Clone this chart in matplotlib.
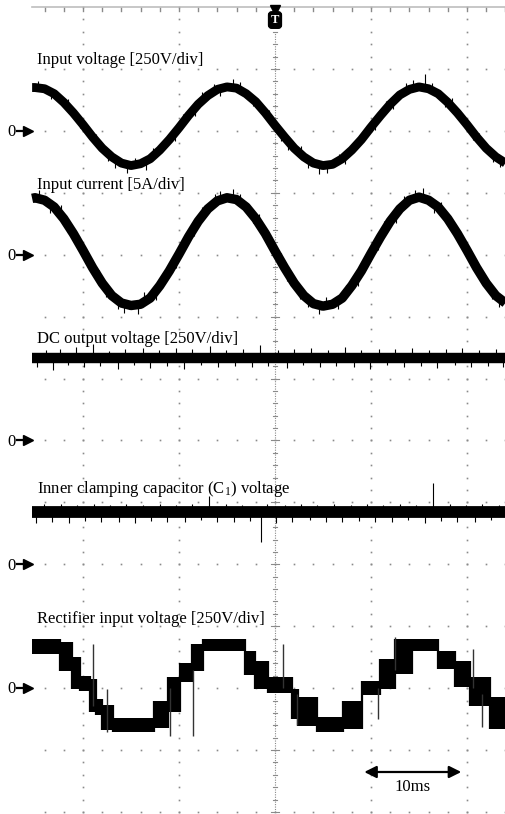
import numpy as np
import matplotlib
matplotlib.use("Agg")
import matplotlib.pyplot as plt

plt.rcParams['font.family'] = ['Liberation Serif', 'DejaVu Serif']
plt.rcParams['mathtext.fontset'] = 'custom'
plt.rcParams['mathtext.rm'] = 'Liberation Serif'
plt.rcParams['mathtext.it'] = 'Liberation Serif:italic'

# ---------------- data (time in ms, trigger at 0; amplitudes in divisions) ----------------
time_ms = [-25.3] + list(range(-25, 25))

input_voltage = [0.70,
                 0.70, 0.68, 0.60, 0.46, 0.29, 0.10, -0.10, -0.28, -0.42, -0.52,
                 -0.56, -0.53, -0.45, -0.31, -0.14, 0.05, 0.25, 0.43, 0.57, 0.67,
                 0.71, 0.69, 0.60, 0.47, 0.29, 0.09, -0.10, -0.28, -0.42, -0.52,
                 -0.56, -0.54, -0.45, -0.31, -0.14, 0.06, 0.25, 0.43, 0.58, 0.67,
                 0.71, 0.68, 0.60, 0.46, 0.29, 0.10, -0.10, -0.28, -0.42, -0.52]

input_current = [0.91,
                 0.92, 0.88, 0.77, 0.58, 0.34, 0.07, -0.21, -0.46, -0.66, -0.78,
                 -0.82, -0.80, -0.70, -0.50, -0.26, 0.01, 0.29, 0.54, 0.74, 0.87,
                 0.92, 0.89, 0.77, 0.58, 0.34, 0.06, -0.21, -0.46, -0.66, -0.79,
                 -0.83, -0.80, -0.70, -0.50, -0.26, 0.02, 0.29, 0.54, 0.74, 0.88,
                 0.93, 0.88, 0.77, 0.58, 0.34, 0.07, -0.21, -0.46, -0.66, -0.78]

dc_output_level = 1.34
clamp_level = 0.84

# rectifier input voltage: stair segments (start time, band top, band bottom)
rect_t = [-25.31, -22.40, -21.15, -20.31, -19.27, -18.65, -18.02, -16.88, -12.60,
          -11.15, -9.90, -8.65, -7.50, -3.13, -2.08, -0.73, 1.77, 2.40, 4.38, 7.08,
          9.06, 10.94, 12.50, 14.27, 16.98, 18.75, 20.31, 22.40, 24.06]
rect_hi = [0.79, 0.74, 0.50, 0.19, 0.15, -0.18, -0.27, -0.48, -0.21, 0.18, 0.40,
           0.71, 0.79, 0.60, 0.44, 0.18, -0.02, -0.15, -0.47, -0.21, 0.11, 0.47,
           0.79, 0.79, 0.60, 0.44, 0.18, -0.15]
rect_lo = [0.55, 0.27, -0.02, -0.05, -0.39, -0.44, -0.68, -0.71, -0.65, -0.39, 0.10,
           0.27, 0.60, 0.21, -0.02, -0.08, -0.50, -0.61, -0.71, -0.66, -0.11, -0.02,
           0.23, 0.60, 0.31, 0.02, -0.29, -0.66]

# noise spikes: time, start level, end level
volt_spk_t = [-24.7, -23.3, -21.6, -20.3, -18.6, -17.4, -16.7, -15.4, -14.6, -13.4,
              -12.7, -10.4, -9.6, -8.3, -7.6, -6.4, -5.7, -4.4, -3.6, -2.3, -0.6,
              0.6, 1.4, 2.7, 3.4, 4.6, 5.4, 6.7, 7.3, 9.6, 10.4, 11.6, 12.3, 13.6,
              14.4, 15.6, 16.4, 17.7, 18.4, 20.6, 21.3, 22.7, 23.4]
volt_spk_a = [0.69, 0.63, 0.38, 0.18, -0.18, -0.36, -0.46, -0.54, -0.55, -0.49,
              -0.40, -0.04, 0.14, 0.36, 0.49, 0.63, 0.68, 0.70, 0.66, 0.52, 0.21,
              -0.03, -0.18, -0.37, -0.46, -0.54, -0.55, -0.49, -0.40, -0.02, 0.14,
              0.36, 0.47, 0.64, 0.69, 0.70, 0.65, 0.50, 0.40, -0.02, -0.16, -0.38,
              -0.46]
volt_spk_b = [0.80, 0.51, 0.52, 0.05, -0.05, -0.49, -0.60, -0.68, -0.43, -0.63,
              -0.28, -0.17, 0.27, 0.24, 0.62, 0.76, 0.56, 0.84, 0.79, 0.40, 0.34,
              -0.16, -0.31, -0.25, -0.60, -0.69, -0.68, -0.37, -0.53, 0.10, 0.02,
              0.49, 0.35, 0.77, 0.82, 0.92, 0.78, 0.38, 0.53, -0.15, -0.04, -0.51,
              -0.59]

cur_spk_t = [-24.6, -23.4, -22.3, -21.6, -20.4, -19.7, -18.3, -17.6, -16.4, -15.7,
             -14.3, -13.6, -12.4, -11.7, -10.3, -9.6, -8.4, -7.6, -6.3, -5.7, -4.4,
             -3.6, -2.3, -1.7, -0.4, 0.6, 1.3, 2.6, 3.4, 4.6, 5.3, 6.6, 7.4, 8.6,
             9.4, 10.7, 11.4, 12.6, 13.4, 14.6, 15.4, 16.6, 17.3, 18.6, 19.3, 20.6,
             21.4, 22.6, 23.3]
cur_spk_a = [0.90, 0.82, 0.66, 0.48, 0.18, -0.01, -0.38, -0.54, -0.73, -0.80,
             -0.81, -0.74, -0.59, -0.42, -0.08, 0.13, 0.44, 0.62, 0.83, 0.88, 0.90,
             0.84, 0.65, 0.51, 0.22, -0.10, -0.29, -0.58, -0.70, -0.80, -0.82,
             -0.74, -0.62, -0.36, -0.15, 0.21, 0.40, 0.66, 0.80, 0.90, 0.91, 0.82,
             0.71, 0.44, 0.25, -0.10, -0.32, -0.58, -0.70]
cur_spk_b = [1.04, 0.68, 0.80, 0.35, 0.31, -0.15, -0.25, -0.68, -0.87, -0.94,
             -0.95, -0.61, -0.73, -0.29, -0.21, 0.27, 0.31, 0.77, 0.98, 1.03, 1.06,
             0.98, 0.52, 0.65, 0.09, 0.03, -0.43, -0.72, -0.85, -0.95, -0.69,
             -0.88, -0.49, -0.50, -0.02, 0.08, 0.54, 0.52, 0.95, 1.05, 1.08, 0.68,
             0.85, 0.31, 0.38, -0.23, -0.19, -0.72, -0.84]

dc_spk_t = [-24.8, -23.9, -23.1, -22.4, -21.6, -20.7, -19.9, -19.0, -18.2, -17.3,
            -16.4, -15.6, -14.7, -13.8, -13.0, -12.1, -11.2, -10.3, -9.5, -8.6,
            -7.7, -6.8, -5.9, -5.1, -4.2, -3.3, -2.4, -1.6, -0.7, 0.3, 1.2, 2.0,
            2.9, 3.8, 4.7, 5.5, 6.4, 7.3, 8.2, 9.0, 9.9, 10.8, 11.7, 12.5, 13.4,
            14.3, 15.2, 16.0, 16.9, 17.8, 18.7, 19.5, 20.4, 21.3, 22.2, 23.0, 23.8]
dc_spk_d = [-0.16, 0.12, -0.20, 0.14, -0.12, 0.17, -0.15, 0.22, -0.13, 0.11,
            -0.18, 0.13, -0.12, 0.15, -0.17, 0.12, -0.14, 0.16, -0.19, 0.13,
            -0.12, 0.18, -0.15, 0.12, -0.13, 0.14, -0.16, 0.20, -0.14, 0.12,
            -0.17, 0.13, -0.12, 0.15, -0.16, 0.12, -0.13, 0.17, -0.15, 0.12,
            -0.18, 0.14, -0.12, 0.13, -0.15, 0.16, -0.13, 0.12, -0.17, 0.14,
            -0.12, 0.15, -0.16, 0.12, -0.14, 0.13, -0.15]

cl_spk_t = [-24.9, -24.1, -23.2, -22.3, -21.5, -20.6, -19.8, -18.9, -18.1, -17.2,
            -16.3, -15.5, -14.6, -13.7, -12.9, -12.0, -11.2, -10.3, -9.4, -8.6,
            -7.7, -6.9, -6.0, -5.1, -4.3, -3.4, -2.6, -1.5, -0.8, 0.1, 1.0, 1.8,
            2.7, 3.6, 4.4, 5.3, 6.1, 7.0, 7.9, 8.7, 9.6, 10.4, 11.3, 12.2, 13.0,
            13.9, 14.7, 15.6, 16.5, 17.3, 18.2, 19.0, 19.9, 20.8, 21.6, 22.5, 23.3]
cl_spk_d = [-0.17, 0.13, -0.15, 0.14, -0.18, 0.12, -0.14, 0.13, -0.16, 0.12,
            -0.15, 0.14, -0.17, 0.12, -0.14, 0.13, -0.16, 0.12, -0.15, 0.14,
            -0.13, 0.27, -0.16, 0.13, -0.15, 0.12, -0.14, -0.48, 0.13, -0.17,
            0.12, -0.15, 0.14, -0.13, 0.12, -0.16, 0.13, -0.15, 0.12, -0.14,
            0.13, -0.16, 0.12, -0.15, 0.14, -0.13, 0.12, -0.17, 0.47, -0.14,
            0.13, -0.16, 0.12, -0.15, 0.14, -0.13, 0.12]

rect_spk_t = [-18.96, -17.5, -10.94, -8.54, 0.83, 2.25, 10.73, 12.5, 20.6, 21.56]
rect_spk_a = [0.71, -0.02, 0.00, 0.30, 0.71, -0.10, 0.00, 0.82, 0.63, -0.10]
rect_spk_b = [-0.29, -0.71, -0.78, -0.78, 0.00, -0.60, -0.50, 0.30, 0.00, -0.63]

channel_zero = [11, 9, 6, 4, 2]
channel_labels = ["Input voltage [250V/div]", "Input current [5A/div]",
                  "DC output voltage [250V/div]",
                  r"Inner clamping capacitor (C$_\mathrm{1}$) voltage",
                  "Rectifier input voltage [250V/div]"]

# ---------------- figure ----------------
PX_MS = 9.6
PX_DIV = 61.92
fig = plt.figure(figsize=(5.06, 8.14), dpi=100)
ax = fig.add_axes([0, 0, 1, 1])
ax.set_xlim(-275 / PX_MS, (506 - 275) / PX_MS)
ax.set_ylim(-2 / PX_DIV, 814 / PX_DIV - 2 / PX_DIV)
ax.axis('off')

t_left = -25.31
t_right = 24.06
grid_c = '#8a8a8a'

# graticule: horizontal rows of dots
dot_t = np.arange(-24, 25, 2)
for row in range(0, 13):
    ax.plot(dot_t, np.full(dot_t.shape, row), ls='none', marker='s', ms=1.2,
            mec='none', mfc=grid_c, zorder=1)
# vertical columns of dots
col_y = np.arange(0, 13.01, 0.2)
for col in [-20, -10, 10, 20]:
    ax.plot(np.full(col_y.shape, col), col_y, ls='none', marker='s', ms=1.2,
            mec='none', mfc=grid_c, zorder=1)
# centre (trigger) axis
ax.plot([0, 0], [0, 12.6], color=grid_c, lw=0.8, ls=(0, (1, 1.2)), zorder=1)
for yv in col_y:
    half = 0.45 if abs(yv - round(yv)) < 1e-6 else 0.22
    ax.plot([-half, half], [yv, yv], color=grid_c, lw=0.8, zorder=1)
# top border with ticks
ax.plot([t_left, t_right], [13, 13], color='#bdbdbd', lw=1.2, zorder=1)
for tv in dot_t:
    ax.plot([tv, tv], [12.93, 12.98], color=grid_c, lw=1.0, zorder=1)

# ---------------- traces ----------------
def band(z, vals, lw):
    y = np.array(vals) + z
    ax.plot(time_ms, y, color='black', lw=lw, solid_capstyle='butt',
            solid_joinstyle='round', zorder=4)

band(channel_zero[0], input_voltage, 6.4)
ax.vlines(volt_spk_t, np.array(volt_spk_a) + 11, np.array(volt_spk_b) + 11,
          color='black', lw=0.8, zorder=4)

band(channel_zero[1], input_current, 6.8)
ax.vlines(cur_spk_t, np.array(cur_spk_a) + 9, np.array(cur_spk_b) + 9,
          color='black', lw=0.8, zorder=4)

# DC output
dc_y = channel_zero[2] + dc_output_level
ax.plot([t_left, t_right], [dc_y, dc_y], color='black', lw=7.5,
        solid_capstyle='butt', zorder=4)
ax.vlines(dc_spk_t, dc_y, dc_y + np.array(dc_spk_d), color='black', lw=0.8,
          zorder=4)

# inner clamping capacitor
cl_y = channel_zero[3] + clamp_level
ax.plot([t_left, t_right], [cl_y, cl_y], color='black', lw=8.5,
        solid_capstyle='butt', zorder=4)
ax.vlines(cl_spk_t, cl_y, cl_y + np.array(cl_spk_d), color='black',
          lw=0.8, zorder=4)

# rectifier input voltage
rz = channel_zero[4]
hi = np.array(rect_hi + [rect_hi[-1]]) + rz
lo = np.array(rect_lo + [rect_lo[-1]]) + rz
ax.fill_between(rect_t, lo, hi, step='post', color='black', lw=0, zorder=4)
# level transitions between neighbouring stairs
edge_lo = np.minimum(lo[:-2], lo[1:-1])
edge_hi = np.maximum(hi[:-2], hi[1:-1])
ax.vlines(rect_t[1:-1], edge_lo, edge_hi, color='black', lw=1.6, zorder=4)
ax.vlines(rect_spk_t, np.array(rect_spk_a) + rz, np.array(rect_spk_b) + rz,
          color='#333333', lw=1.0, zorder=4)

# ---------------- labels ----------------
label_y = [12.08, 10.06, 7.574, 5.152, 3.052]
for lab, ly in zip(channel_labels, label_y):
    ax.text(-24.8, ly, lab, fontsize=12, ha='left', va='baseline', zorder=6)

for z in channel_zero:
    ax.text(-27.4, z - 0.085, '0', fontsize=12, ha='center', va='baseline', zorder=6)
    ax.plot([-26.9, -26.0], [z, z], color='black', lw=1.6, zorder=6)
    ax.plot([-25.75], [z], marker='>', ms=7.5, color='black', mec='black', zorder=6)

# trigger marker
ax.plot([0], [12.95], marker='v', ms=7, color='black', zorder=7)
ax.text(0, 12.79, 'T', color='white', fontsize=9, fontweight='bold', ha='center',
        va='center', zorder=8,
        bbox=dict(boxstyle='round,pad=0.18,rounding_size=0.25', fc='black', ec='black'))

# 10 ms scale arrow
ax.annotate('', xy=(9.3, 0.646), xytext=(19.4, 0.646),
            arrowprops=dict(arrowstyle='<|-|>', color='black', lw=1.6,
                            mutation_scale=18, shrinkA=0, shrinkB=0), zorder=6)
ax.text(14.3, 0.339, '10ms', fontsize=12, ha='center', va='baseline', zorder=6)

fig.savefig('out.png', dpi=100)
